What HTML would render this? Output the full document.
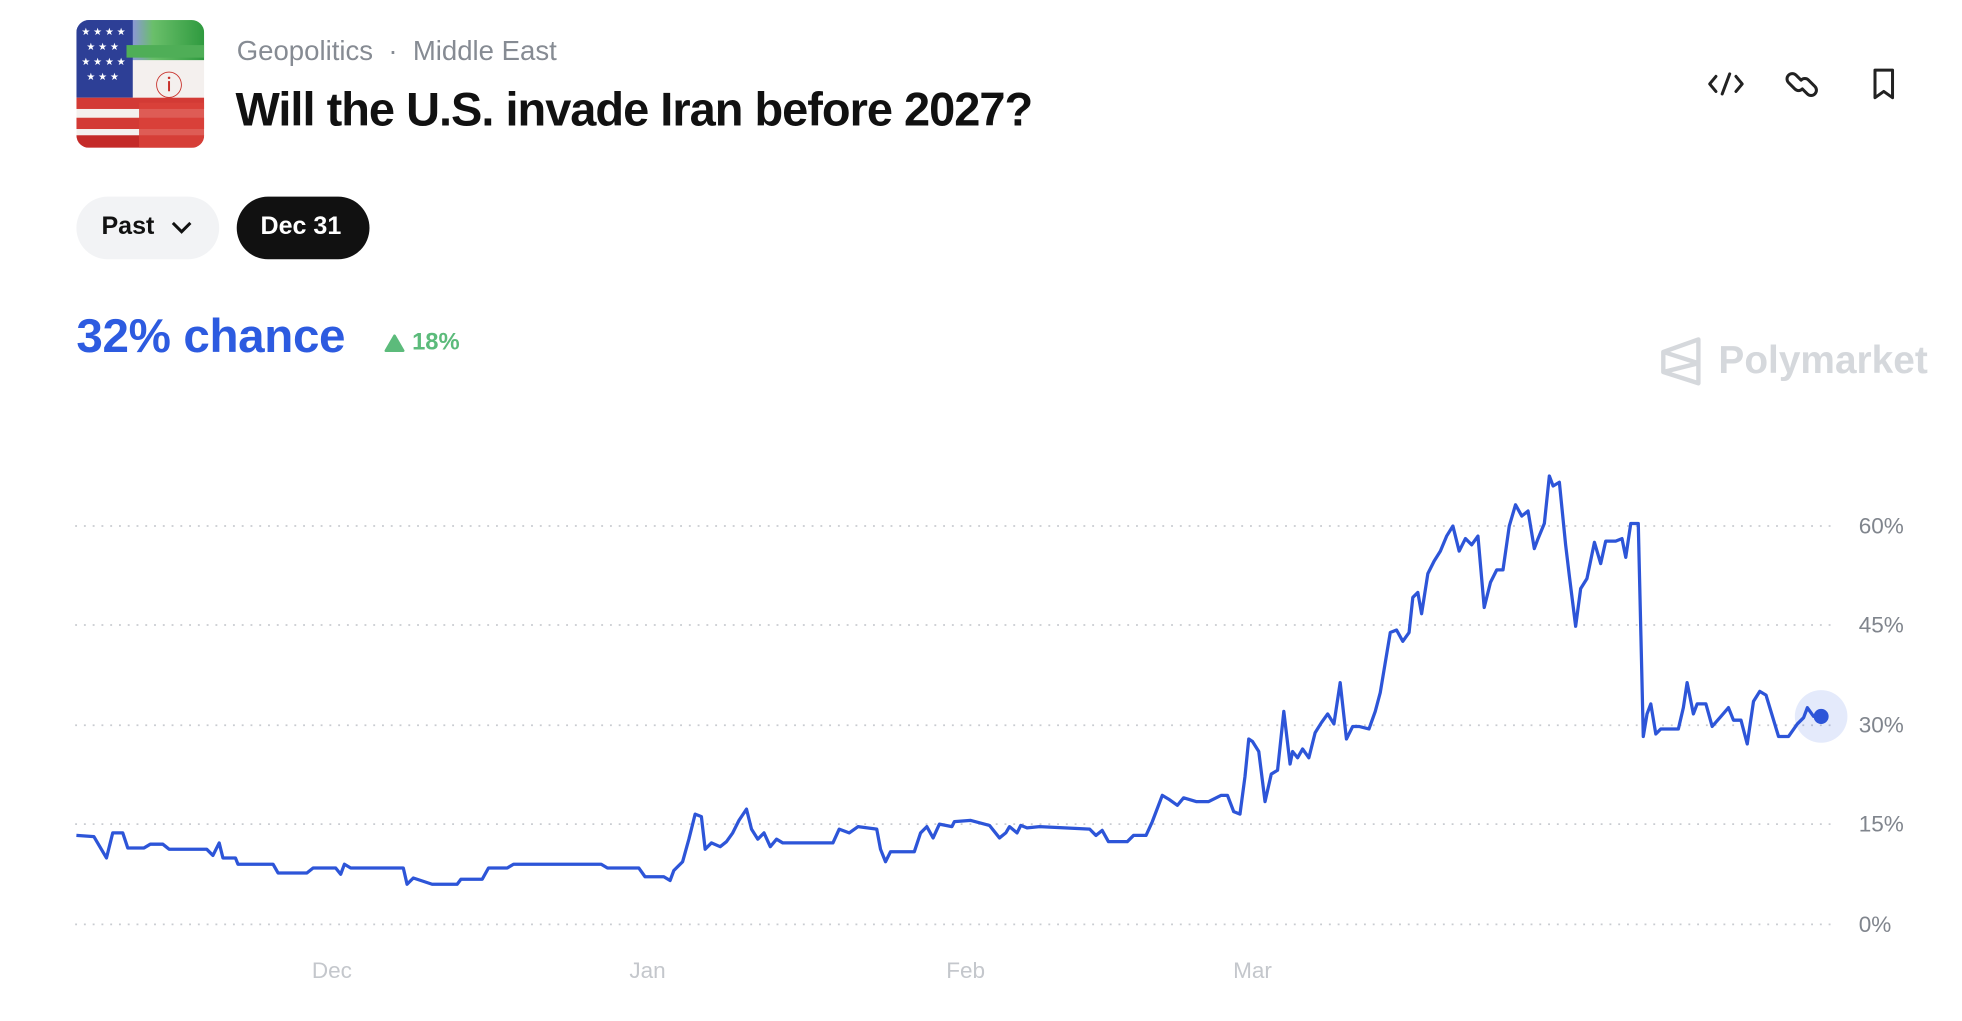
<!DOCTYPE html>
<html><head><meta charset="utf-8"><style>
html,body{margin:0;padding:0;background:#fff;width:1962px;height:1020px;overflow:hidden}
#w{position:absolute;left:0;top:0;width:1570px;height:815px;transform:scale(1.2525);transform-origin:0 0;font-family:"Liberation Sans",sans-serif}
.a{position:absolute;white-space:nowrap}
</style></head><body><div id="w">
<svg class="a" style="left:61px;top:16px" width="102" height="102" viewBox="0 0 102 102">
<defs><clipPath id="c"><rect width="102" height="102" rx="10"/></clipPath>
<linearGradient id="g" x1="0" x2="1"><stop offset="0" stop-color="#2a3f9a"/><stop offset="0.45" stop-color="#8a9ad0"/><stop offset="0.6" stop-color="#6abf6a"/><stop offset="1" stop-color="#2f9a3f"/></linearGradient></defs>
<g clip-path="url(#c)">
<rect width="102" height="102" fill="#f4f0ee"/>
<rect width="102" height="32" fill="url(#g)"/>
<rect width="45" height="62" fill="#2d3f96"/>
<rect x="40" y="20" width="62" height="10" fill="#4fae57"/>
<rect x="0" y="62" width="102" height="9" fill="#d33a35"/>
<rect x="0" y="78" width="102" height="9" fill="#d33a35"/>
<rect x="0" y="92" width="102" height="10" fill="#c42a28"/>
<rect x="50" y="66" width="52" height="36" fill="#d9423a" opacity="0.85"/>
<g fill="#fff" font-size="8"><text x="4" y="12">★ ★ ★ ★</text><text x="8" y="24">★ ★ ★</text><text x="4" y="36">★ ★ ★ ★</text><text x="8" y="48">★ ★ ★</text></g>
<text x="74" y="60" fill="#c8302a" font-size="22" text-anchor="middle">ⓘ</text>
</g></svg>
<div class="a" style="left:189px;top:28px;font-size:22px;color:#868b93">Geopolitics &nbsp;·&nbsp; Middle East</div>
<div class="a" style="left:188px;top:66px;font-size:37.5px;font-weight:bold;color:#111;letter-spacing:-0.8px">Will the U.S. invade Iran before 2027?</div>
<svg class="a" style="left:1362px;top:52px" width="160" height="32" viewBox="0 0 160 32" fill="none" stroke="#222" stroke-width="2.4" stroke-linecap="round" stroke-linejoin="round">
<path d="M8 9 L3 15 L8 21 M24 9 L29 15 L24 21 M19 7 L13 23"/>
<path d="M76 12 l-4 -4 a4 4 0 0 0 -6 6 l5 5 a4 4 0 0 0 6 0 M77 19 l4 4 a4 4 0 0 0 6 -6 l-5 -5 a4 4 0 0 0 -6 0"/>
<path d="M135 4 h14 v22 l-7 -5 l-7 5 z"/>
</svg>
<div class="a" style="left:61px;top:157px;width:114px;height:50px;border-radius:25px;background:#f2f3f5"></div>
<div class="a" style="left:81px;top:170px;font-size:20px;font-weight:bold;color:#111">Past</div>
<svg class="a" style="left:136px;top:175px" width="18" height="14"><path d="M2 3 L9 10 L16 3" stroke="#111" stroke-width="2.4" fill="none"/></svg>
<div class="a" style="left:189px;top:157px;width:106px;height:50px;border-radius:25px;background:#111"></div>
<div class="a" style="left:208px;top:170px;font-size:20px;font-weight:bold;color:#fff">Dec 31</div>
<div class="a" style="left:61px;top:248px;font-size:38px;font-weight:bold;color:#2d5be0;letter-spacing:-0.3px">32% chance</div>
<svg class="a" style="left:307px;top:267px" width="16" height="14"><path d="M8 1 L15 13 L1 13 Z" fill="#5cbb7b" stroke="#5cbb7b" stroke-linejoin="round" stroke-width="2"/></svg>
<div class="a" style="left:329px;top:263px;font-size:19px;font-weight:bold;color:#5cbb7b">18%</div>
<svg class="a" style="left:1325px;top:268px" width="36" height="40"><path d="M31 3 L3 13 L3 29 L31 38 Z M3 13 L31 22 L3 29 M31 3 V38" stroke="#d5d8dc" stroke-width="3.5" fill="none" stroke-linejoin="round"/></svg>
<div class="a" style="left:1372px;top:270px;font-size:31px;font-weight:bold;color:#d5d8dc">Polymarket</div>
<svg class="a" style="left:0;top:0" width="1570" height="815">
<g stroke="#c9ccd1" stroke-width="1.4" stroke-dasharray="1.5 5.5">
<line x1="60" x2="1467" y1="420" y2="420"/><line x1="60" x2="1467" y1="499" y2="499"/><line x1="60" x2="1467" y1="579" y2="579"/><line x1="60" x2="1467" y1="658" y2="658"/><line x1="60" x2="1467" y1="738" y2="738"/>
</g>
<g font-family="Liberation Sans,sans-serif" font-size="18" fill="#80858d">
<text x="1484" y="426">60%</text><text x="1484" y="505">45%</text><text x="1484" y="585">30%</text><text x="1484" y="664">15%</text><text x="1484" y="744">0%</text>
</g>
<g font-family="Liberation Sans,sans-serif" font-size="18" fill="#c4c7cc" text-anchor="middle">
<text x="265" y="781">Dec</text><text x="517" y="781">Jan</text><text x="771" y="781">Feb</text><text x="1000" y="781">Mar</text>
</g>
<circle cx="1454" cy="572" r="21" fill="#2d5be0" opacity="0.13"/>
<polyline fill="none" stroke="#2d55d8" stroke-width="2.6" stroke-linejoin="round" points="61,667 75,668 85,685 90,665 98,665 102,677 115,677 120,674 130,674 135,678 165,678 170,683 175,673 178,685 188,685 190,690 218,690 222,697 245,697 250,693 268,693 272,698 275,690 280,693 322,693 325,706 330,701 345,706 365,706 368,702 385,702 390,693 405,693 410,690 480,690 485,693 510,693 515,700 530,700 535,703 538,695 545,688 550,670 555,650 560,652 563,678 568,673 575,676 580,672 585,665 590,655 596,646 600,662 605,670 610,665 615,676 620,670 625,673 665,673 670,662 678,665 685,660 700,662 703,678 707,688 711,680 730,680 735,665 740,660 745,669 750,658 760,660 762,656 775,655 790,659 798,669 803,665 806,660 812,665 815,659 820,661 830,660 870,662 875,667 880,663 885,672 900,672 905,667 915,667 920,656 928,635 933,638 940,643 945,637 955,640 965,640 975,635 980,635 985,648 990,650 994,620 997,590 1000,592 1005,600 1010,640 1015,618 1020,615 1025,568 1030,610 1032,600 1036,605 1040,598 1045,605 1050,585 1055,577 1060,570 1065,578 1070,545 1075,590 1080,580 1085,580 1093,582 1098,568 1102,553 1110,505 1115,503 1120,512 1125,505 1128,477 1132,473 1135,490 1140,458 1145,448 1150,440 1155,428 1160,420 1165,440 1170,430 1175,435 1180,428 1185,485 1190,465 1195,455 1200,455 1205,420 1210,403 1215,412 1220,408 1225,438 1228,430 1233,418 1237,380 1240,388 1245,385 1250,435 1253,460 1258,500 1262,470 1267,462 1273,433 1278,450 1282,432 1290,432 1295,430 1298,445 1302,418 1308,418 1312,588 1315,570 1318,562 1322,586 1326,582 1340,582 1344,565 1347,545 1352,570 1355,562 1362,562 1367,580 1374,572 1380,565 1384,575 1390,575 1395,594 1400,560 1405,552 1410,555 1420,588 1428,588 1435,578 1440,573 1443,565 1448,572 1454,572"/>
<circle cx="1454" cy="572" r="6" fill="#2d55d8"/>
</svg>
</div></body></html>
